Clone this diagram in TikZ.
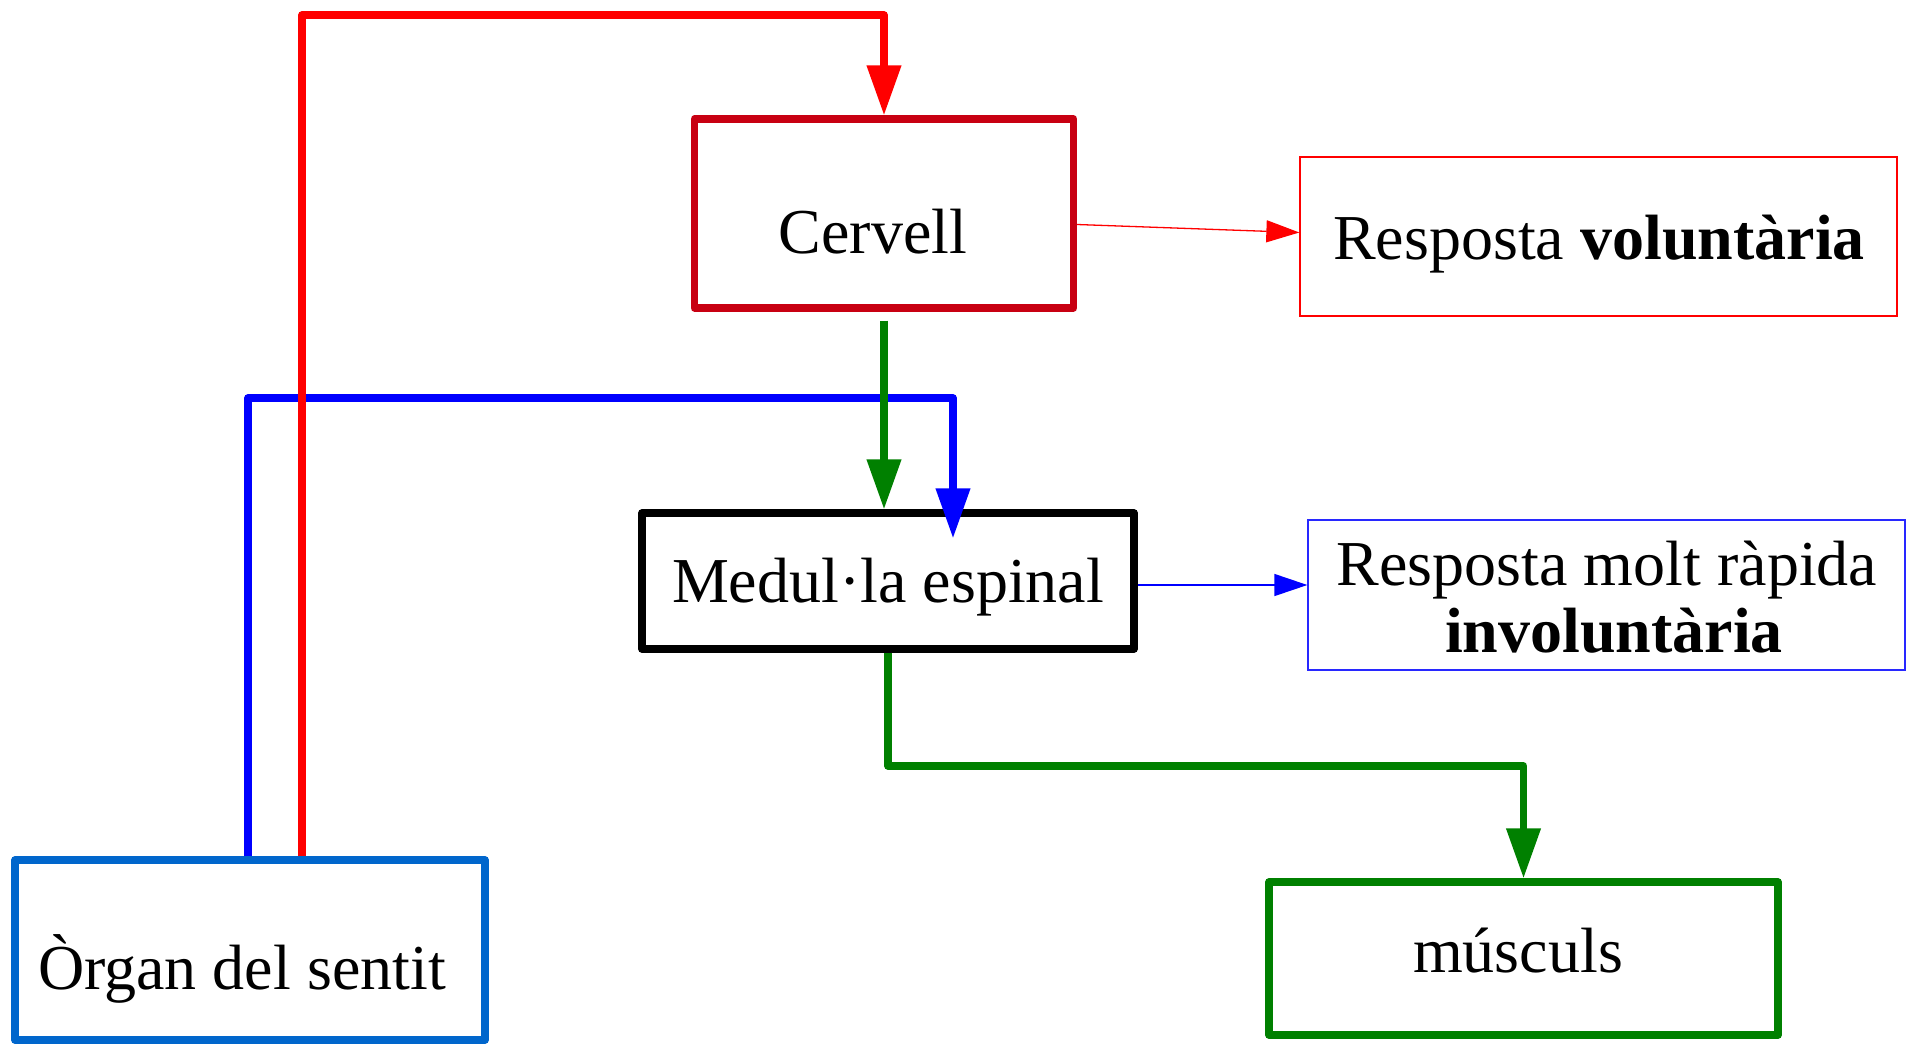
\documentclass[tikz,border=0pt]{standalone}
\usepackage{fontspec}
\setmainfont{Liberation Serif}
\usetikzlibrary{arrows.meta}
\definecolor{cred}{RGB}{255,0,0}
\definecolor{cdred}{RGB}{200,0,18}
\definecolor{cblue}{RGB}{0,0,255}
\definecolor{cbox}{RGB}{0,102,204}
\definecolor{cgreen}{RGB}{0,128,0}
\definecolor{cthinblue}{RGB}{40,40,255}
\begin{document}
\begin{tikzpicture}[x=1pt,y=-1pt,
  box/.style={draw, inner sep=0pt, line width=7.3pt, line join=round},
  thinbox/.style={draw, inner sep=0pt, line width=1.3pt},
  txt/.style={anchor=base, inner sep=0pt, font=\fontsize{64pt}{74pt}\selectfont},
  bigtip/.style={-{Triangle[length=50pt,width=33pt]}},
  smalltip/.style={-{Triangle[length=33pt,width=22pt]}},
  heavy/.style={line width=7.3pt, line join=round},
  light/.style={line width=1.3pt}]
\useasboundingbox (0,0) rectangle (1910,1044);
% boxes
\node[box, draw=cbox, minimum width=470pt, minimum height=180pt] (organ) at (250,950) {};
\node[box, draw=cdred, minimum width=379pt, minimum height=189pt] (cervell) at (884,213.5) {};
\node[box, draw=black, minimum width=492pt, minimum height=136pt] (medulla) at (888,581) {};
\node[thinbox, draw=cred, minimum width=597pt, minimum height=159pt] (volunt) at (1598.5,236.5) {};
\node[thinbox, draw=cthinblue, minimum width=597pt, minimum height=150pt] (rapida) at (1606.5,595) {};
\node[box, draw=cgreen, minimum width=509pt, minimum height=153pt] (musculs) at (1523.5,958.5) {};
% texts
\node[txt] (torgan) at (242,989) {Òrgan del sentit};
\node[txt] (tcervell) at (873,253) {Cervell};
\node[txt] (tmedulla) at (888,602) {Medul·la espinal};
\node[txt] (tvolunt) at (1599,259) {Resposta \textbf{voluntària}};
\node[txt] (trapida1) at (1607,585) {Resposta molt ràpida};
\node[txt] (trapida2) at (1614,652) {\textbf{involuntària}};
\node[txt] (tmusculs) at (1518,972) {músculs};
% turning points
\coordinate (btop) at (953,398);
\coordinate (rtop) at (884,15);
\coordinate (gturn) at (888,766);
% connectors
\draw[heavy, cblue, bigtip, shorten >=-29pt] ([xshift=-2pt]organ.north) |- (btop) -- ([xshift=65pt]medulla.north);
\draw[heavy, cred, bigtip] ([xshift=52pt]organ.north) |- (rtop) -- (cervell.north);
\draw[heavy, cgreen, bigtip, shorten <=9pt] (cervell.south) -- (cervell.south |- medulla.north);
\draw[heavy, cgreen, bigtip] (medulla.south) -- (gturn) -| (musculs.north);
\draw[light, cred, smalltip] ([yshift=-11pt]cervell.east) -- ([yshift=4pt]volunt.west);
\draw[light, cblue, smalltip] ([yshift=-4pt]medulla.east) -- ([yshift=10pt]rapida.west);
\end{tikzpicture}
\end{document}
